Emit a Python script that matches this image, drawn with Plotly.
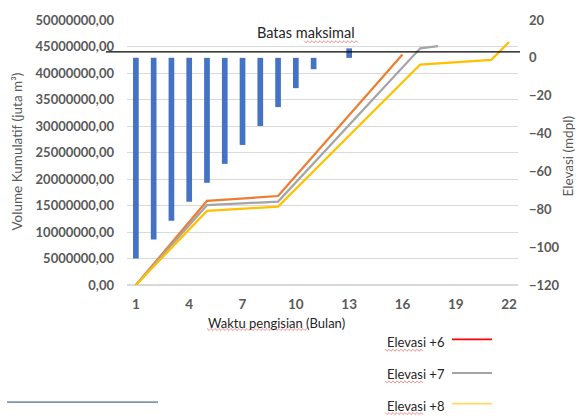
import plotly.graph_objects as go

# Monthly elevation change (mdpl) shown as bars on the right axis
bar_months = list(range(1, 14))
bar_elev = [-106, -96, -86, -76, -66, -56, -46, -36, -26, -16, -6, 0, 5]

# Cumulative volume (m3) for the three target elevations
el6_month = [1, 5, 9, 16]
el6_vol = [0, 15_860_000, 16_790_000, 43_500_000]
el7_month = [1, 5, 9, 17, 18]
el7_vol = [0, 15_060_000, 15_730_000, 44_650_000, 45_090_000]
el8_month = [1, 5, 9, 17, 21, 22]
el8_vol = [0, 13_990_000, 14_790_000, 41_600_000, 42_480_000, 45_840_000]

# Maximum volume limit
batas_maks = 44_000_000

series_names = ["Elevasi +6", "Elevasi +7", "Elevasi +8"]
line_colors = ["#ED7D31", "#A5A5A5", "#FFC000"]
legend_colors = ["#FF0000", "#A5A5A5", "#FFD966"]

FONT = "Lato"
TXT = "#595959"

fig = go.Figure()

fig.add_trace(go.Bar(
    x=bar_months, y=bar_elev, yaxis="y2",
    marker=dict(color="#4472C4", line=dict(width=0)),
    width=0.32, showlegend=False, name="Elevasi",
))

for xs, ys, name, col in zip([el6_month, el7_month, el8_month],
                             [el6_vol, el7_vol, el8_vol],
                             series_names, line_colors):
    fig.add_trace(go.Scatter(
        x=xs, y=ys, mode="lines", name=name,
        line=dict(color=col, width=2.25), showlegend=False,
    ))

L, R, T, B = 127, 59, 17, 131
W, H = 577, 416
pw, ph = W - L - R, H - T - B

def px(x):
    return (x - L) / pw

def py(y):
    return (H - B - y) / ph

def squiggle(x0, x1, y):
    """Wavy red underline drawn as a zigzag path."""
    pts, x, up = [], x0, True
    while x <= x1:
        pts.append((px(x), py(y - 1 if up else y + 1)))
        x += 2
        up = not up
    d = "M " + " L ".join(f"{a:.5f},{b:.5f}" for a, b in pts)
    return dict(type="path", xref="paper", yref="paper", path=d,
                line=dict(color="#F08080", width=0.9))

shapes = [
    dict(type="line", xref="paper", yref="y", x0=px(106), x1=px(520),
         y0=batas_maks, y1=batas_maks, line=dict(color="#000000", width=1.3)),
    dict(type="line", xref="paper", yref="paper", x0=px(7), x1=px(158),
         y0=py(403.5), y1=py(403.5), line=dict(color="#7F97AE", width=1.8)),
    squiggle(304, 358, 39),
    squiggle(207, 307, 330),
]

def label(text, x, y, size, color, angle=0, xanchor="center"):
    return dict(text=text, xref="paper", yref="paper", x=px(x), y=py(y),
                xanchor=xanchor, yanchor="middle", showarrow=False,
                textangle=angle, font=dict(family=FONT, size=size, color=color))

annotations = [
    label("Batas maksimal", 306, 30, 14.5, "#262626"),
    label("Waktu pengisian (Bulan)", 276, 323, 13, "#262626"),
    label("Volume Kumulatif (juta m³)", 17, 150, 13.5, TXT, angle=-90),
    label("Elevasi (mdpl)", 568, 155, 13.5, TXT, angle=-90),
]

legend_rows = [(343, 340), (375, 374), (407, 405)]
for name, col, (ty, ly) in zip(series_names, legend_colors, legend_rows):
    annotations.append(label(name, 385, ty, 13, "#262626", xanchor="left"))
    shapes.append(dict(type="line", xref="paper", yref="paper",
                       x0=px(452), x1=px(492), y0=py(ly), y1=py(ly),
                       line=dict(color=col, width=1.8)))
    shapes.append(squiggle(385, 423, ty + 8))

fig.update_layout(
    width=W, height=H,
    margin=dict(l=L, r=R, t=T, b=B),
    paper_bgcolor="white", plot_bgcolor="white",
    separators=",.",
    shapes=shapes, annotations=annotations,
    xaxis=dict(range=[0.5, 22.5], tick0=1, dtick=3, showgrid=False,
               zeroline=False, showline=False, ticks="",
               ticklabelstandoff=9,
               tickfont=dict(family=FONT, size=13.5, color=TXT, weight="bold")),
    yaxis=dict(range=[0, 50_000_000], dtick=5_000_000, tickformat=".2f",
               showgrid=True, gridcolor="#D9D9D9", gridwidth=1,
               zeroline=True, zerolinecolor="#D9D9D9", showline=False,
               ticks="", ticklabelstandoff=12,
               tickfont=dict(family=FONT, size=13, color=TXT, weight="bold")),
    yaxis2=dict(range=[-120, 20], dtick=20, overlaying="y", side="right",
                showgrid=False, zeroline=False, showline=False, ticks="",
                ticklabelstandoff=10,
                tickfont=dict(family=FONT, size=13, color=TXT, weight="bold")),
)

fig.write_html("out.html")
